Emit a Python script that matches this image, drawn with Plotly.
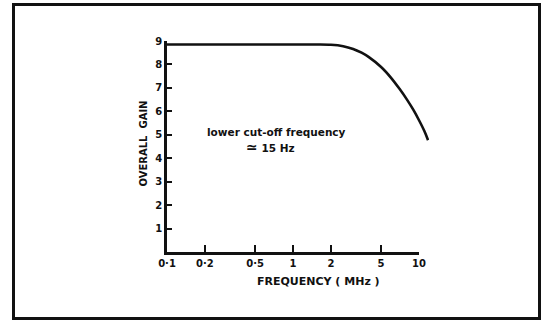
import math
import plotly.graph_objects as go

# Frequency response of the amplifier (frequency in MHz, overall gain)
freq_mhz = [0.1, 0.5, 1.0, 1.5, 2.0, 2.5, 3.0, 3.5, 4.0, 5.0, 6.0, 7.0, 8.0, 9.0, 10.0, 11.0, 11.8]
gain = [8.85, 8.85, 8.85, 8.85, 8.84, 8.78, 8.66, 8.50, 8.31, 7.89, 7.43, 6.96, 6.51, 6.07, 5.62, 5.17, 4.77]

x_tick_vals = [0.1, 0.2, 0.5, 1, 2, 5, 10]
x_tick_text = ["0·1", "0·2", "0·5", "1", "2", "5", "10"]
y_tick_vals = [1, 2, 3, 4, 5, 6, 7, 8, 9]

W, H = 543, 322
L, T = 167, 41
PW, PH = 262, 211          # plot area in pixels
R = W - L - PW
B = H - T - PH

x_lo = math.log10(0.1)
x_hi = math.log10(12)
x_axis_end = math.log10(10)
x2_frac = (x_axis_end - x_lo) / (x_hi - x_lo)


def px(xp):
    return (xp - L) / PW


def py(yp):
    return (T + PH - yp) / PH


ink = "#111111"
label_font = dict(family="DejaVu Sans", size=10, color=ink, weight="bold")


def note(text, xp, yp, size, angle=0):
    return dict(text=text, xref="paper", yref="paper", x=px(xp), y=py(yp),
                xanchor="center", yanchor="middle", textangle=angle, showarrow=False,
                font=dict(family="DejaVu Sans", size=size, color=ink, weight="bold"))


fig = go.Figure()
fig.add_trace(go.Scatter(
    x=freq_mhz, y=gain, mode="lines",
    line=dict(color=ink, width=2.6, shape="spline", smoothing=1.0),
    xaxis="x", yaxis="y", hoverinfo="skip", showlegend=False,
))
# empty trace that carries the visible frequency axis (ends at 10 MHz)
fig.add_trace(go.Scatter(x=[], y=[], xaxis="x2", yaxis="y", showlegend=False))

fig.update_layout(
    width=W, height=H,
    margin=dict(l=L, r=R, t=T, b=B),
    paper_bgcolor="white", plot_bgcolor="rgba(0,0,0,0)",
    showlegend=False,
    xaxis=dict(type="log", range=[x_lo, x_hi], domain=[0, 1], visible=False),
    xaxis2=dict(
        type="log", range=[x_lo, x_axis_end], domain=[0, x2_frac], anchor="y",
        showline=True, linecolor=ink, linewidth=2.6, showgrid=False, zeroline=False,
        ticks="inside", ticklen=7, tickwidth=2, tickcolor=ink,
        tickvals=x_tick_vals, ticktext=x_tick_text, tickfont=label_font,
    ),
    yaxis=dict(
        range=[0, 9], anchor="x",
        showline=True, linecolor=ink, linewidth=2.6, showgrid=False, zeroline=False,
        ticks="inside", ticklen=5, tickwidth=2, tickcolor=ink,
        tickvals=y_tick_vals, tickfont=label_font,
    ),
    annotations=[
        note("FREQUENCY ( MHz )", 318.6, 281, 11),
        note("OVERALL  GAIN", 143, 143.5, 10, angle=-90),
        note("lower cut-off frequency", 276.5, 132, 10.5),
        note("<span style='font-size:14px'>≃</span> 15 Hz", 270, 147, 10.5),
    ],
    shapes=[
        dict(type="rect", xref="paper", yref="paper",
             x0=px(13.5), x1=px(539.5), y0=py(318.5), y1=py(4.5),
             line=dict(color=ink, width=3), fillcolor="rgba(0,0,0,0)"),
    ],
)

fig.write_html("out.html")
